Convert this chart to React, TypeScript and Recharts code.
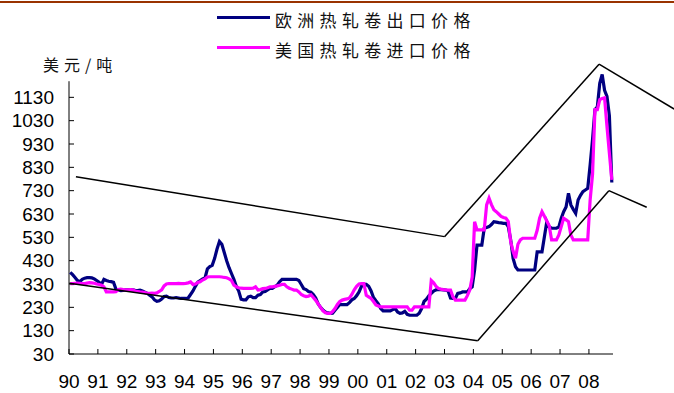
import { Line, LineChart, ReferenceLine, XAxis, YAxis } from 'recharts';

// Monthly prices, Jan 1990 – Oct 2008 (USD/t)
const eurExport = [
  380, 370, 358, 345, 340, 350, 355, 357, 357, 356, 352, 345, // 1990
  338, 328, 350, 345, 342, 340, 337, 308, 304, 302, 303, 305, // 1991
  305, 306, 305, 303, 302, 304, 300, 295, 290, 282, 275, 262, // 1992
  256, 258, 266, 276, 278, 272, 270, 270, 272, 270, 268, 268, // 1993
  268, 270, 285, 300, 320, 338, 345, 352, 356, 395, 405, 410, // 1994
  440, 480, 512, 500, 465, 430, 400, 375, 350, 320, 300, 265, // 1995
  262, 262, 275, 278, 272, 272, 282, 285, 296, 298, 305, 311, // 1996
  311, 318, 325, 340, 350, 350, 350, 350, 350, 350, 350, 345, // 1997
  328, 310, 306, 298, 295, 285, 270, 245, 230, 218, 210, 206, // 1998
  204, 205, 218, 230, 242, 242, 242, 242, 250, 262, 268, 280, // 1999
  296, 320, 328, 328, 320, 300, 272, 258, 245, 225, 215, 215, // 2000
  215, 215, 220, 225, 210, 204, 206, 213, 200, 196, 196, 196, // 2001
  196, 205, 225, 255, 265, 280, 290, 300, 305, 307, 306, 305, // 2002
  304, 300, 270, 268, 268, 290, 292, 296, 296, 296, 310, 318, // 2003
  390, 497, 497, 497, 569, 572, 576, 585, 597, 595, 593, 592, // 2004
  590, 590, 576, 519, 440, 404, 390, 390, 390, 390, 390, 390, // 2005
  390, 390, 468, 468, 468, 533, 597, 575, 569, 569, 569, 575, // 2006
  612, 640, 660, 719, 669, 650, 633, 690, 710, 726, 733, 740, // 2007
  840, 950, 1077, 1090, 1190, 1228, 1160, 1134, 1050, 765, // 2008
];

const usImport = [
  332, 332, 333, 334, 333, 332, 332, 334, 336, 335, 333, 330, // 1990
  328, 325, 318, 296, 296, 296, 296, 297, 306, 308, 306, 305, // 1991
  305, 306, 305, 300, 298, 296, 295, 293, 290, 290, 291, 290, // 1992
  292, 298, 305, 322, 330, 332, 332, 332, 332, 333, 332, 332, // 1993
  333, 335, 339, 328, 330, 337, 340, 347, 352, 360, 361, 361, // 1994
  361, 361, 361, 360, 358, 357, 352, 345, 325, 318, 314, 312, // 1995
  311, 311, 311, 311, 312, 318, 304, 306, 310, 311, 314, 318, // 1996
  318, 320, 322, 325, 328, 328, 318, 312, 308, 304, 304, 296, // 1997
  285, 280, 276, 278, 284, 272, 260, 245, 230, 215, 207, 204, // 1998
  204, 212, 225, 242, 255, 261, 264, 266, 270, 285, 305, 320, // 1999
  330, 332, 332, 282, 275, 268, 255, 240, 236, 232, 232, 232, // 2000
  232, 232, 232, 232, 232, 232, 232, 232, 232, 218, 218, 232, // 2001
  232, 232, 232, 232, 232, 232, 345, 335, 320, 311, 308, 306, // 2002
  305, 304, 304, 275, 261, 261, 261, 261, 261, 280, 304, 360, // 2003
  597, 562, 562, 562, 562, 669, 698, 670, 648, 640, 630, 620, // 2004
  615, 612, 597, 511, 470, 440, 500, 519, 526, 526, 526, 526, // 2005
  526, 526, 560, 612, 640, 620, 600, 580, 519, 519, 519, 540, // 2006
  576, 612, 605, 597, 540, 519, 519, 519, 519, 519, 519, 519, // 2007
  690, 800, 1077, 1077, 1120, 1125, 1128, 1005, 890, 776, // 2008
];

const yearTicks = [
  1990, 1991, 1992, 1993, 1994, 1995, 1996, 1997, 1998, 1999,
  2000, 2001, 2002, 2003, 2004, 2005, 2006, 2007, 2008,
];
const priceTicks = [30, 130, 230, 330, 430, 530, 630, 730, 830, 930, 1030, 1130];

const seriesLabels = ['欧洲热轧卷出口价格', '美国热轧卷进口价格'];
const seriesColors = ['#000080', '#FF00FF'];

// hand-drawn channel lines (year, price)
const upperChannel = [
  { t: 1990.24, v: 790 },
  { t: 2003.0, v: 533 },
  { t: 2008.35, v: 1272 },
  { t: 2010.95, v: 1080 },
];
const lowerChannel = [
  { t: 1990.01, v: 333 },
  { t: 2004.15, v: 87 },
  { t: 2008.69, v: 730 },
  { t: 2010.0, v: 659 },
];

const MONTHS = eurExport.length;
const data = eurExport.map((eur, i) => ({
  t: 1990 + (i + 0.5) / 12,
  eur,
  us: usImport[i],
}));

const numFont = '"Liberation Sans", Arial, sans-serif';
const cjkFont = '"Noto Sans CJK SC", sans-serif';

function PriceTick({ x, y, payload }: any) {
  return (
    <g>
      <line x1={x} x2={x + 5} y1={y} y2={y} stroke="#000" />
      <text
        x={x - 15}
        y={y}
        textAnchor="end"
        dominantBaseline="central"
        fontFamily={numFont}
        fontSize={19}
        fill="#000"
      >
        {payload.value}
      </text>
    </g>
  );
}

function YearTick({ x, y, payload }: any) {
  return (
    <g>
      <line x1={x} x2={x} y1={y - 5} y2={y} stroke="#000" />
      <text
        x={x}
        y={y + 27}
        textAnchor="middle"
        dominantBaseline="central"
        fontFamily={numFont}
        fontSize={19}
        fill="#000"
      >
        {String(payload.value % 100).padStart(2, '0')}
      </text>
    </g>
  );
}

function LegendBox() {
  return (
    <div style={{ position: 'absolute', left: 217, top: 2 }}>
      {seriesLabels.map((label, i) => (
        <div key={label} style={{ display: 'flex', alignItems: 'center', height: 30 }}>
          <div style={{ width: 53, height: 3, background: seriesColors[i] }} />
          <span
            style={{
              marginLeft: 5,
              fontFamily: cjkFont,
              fontSize: 17,
              letterSpacing: 5.3,
              color: '#111',
              position: 'relative',
              top: 2,
              whiteSpace: 'nowrap',
            }}
          >
            {label}
          </span>
        </div>
      ))}
    </div>
  );
}

function channelSegments(pts: { t: number; v: number }[], key: string) {
  return pts.slice(1).map((p, i) => (
    <ReferenceLine
      key={`${key}-${i}`}
      segment={[
        { x: pts[i].t, y: pts[i].v },
        { x: p.t, y: p.v },
      ]}
      stroke="#000"
      strokeWidth={1.5}
      ifOverflow="visible"
    />
  ));
}

export default function App() {
  return (
    <div style={{ position: 'absolute', left: 0, top: 0, width: 674, height: 393, background: '#fff' }}>
      <div style={{ position: 'absolute', left: 0, top: 1, width: 674, height: 2, background: '#993300' }} />
      <LegendBox />
      <div
        style={{
          position: 'absolute',
          left: 43,
          top: 52,
          fontFamily: cjkFont,
          fontSize: 16,
          letterSpacing: 5,
          color: '#111',
          whiteSpace: 'nowrap',
        }}
      >
        美元/吨
      </div>
      <LineChart
        width={674}
        height={393}
        data={data}
        margin={{ top: 74, right: 61, bottom: 0, left: 0 }}
      >
        <XAxis
          type="number"
          dataKey="t"
          domain={[1990, 1990 + MONTHS / 12]}
          ticks={yearTicks}
          interval={0}
          height={39}
          tickSize={0}
          tickMargin={0}
          tickLine={false}
          axisLine={{ stroke: '#000' }}
          tick={<YearTick />}
        />
        <YAxis
          type="number"
          domain={[30, 1230]}
          ticks={priceTicks}
          interval={0}
          width={69}
          tickSize={0}
          tickMargin={0}
          tickLine={false}
          axisLine={false}
          tick={<PriceTick />}
        />
        <ReferenceLine
          segment={[
            { x: 1990, y: 30 },
            { x: 1990, y: 1199 },
          ]}
          stroke="#000"
          ifOverflow="visible"
        />
        <Line
          dataKey="eur"
          stroke={seriesColors[0]}
          strokeWidth={3.2}
          dot={false}
          isAnimationActive={false}
        />
        <Line
          dataKey="us"
          stroke={seriesColors[1]}
          strokeWidth={3.2}
          dot={false}
          isAnimationActive={false}
        />
        {channelSegments(upperChannel, 'up')}
        {channelSegments(lowerChannel, 'lo')}
      </LineChart>
    </div>
  );
}
